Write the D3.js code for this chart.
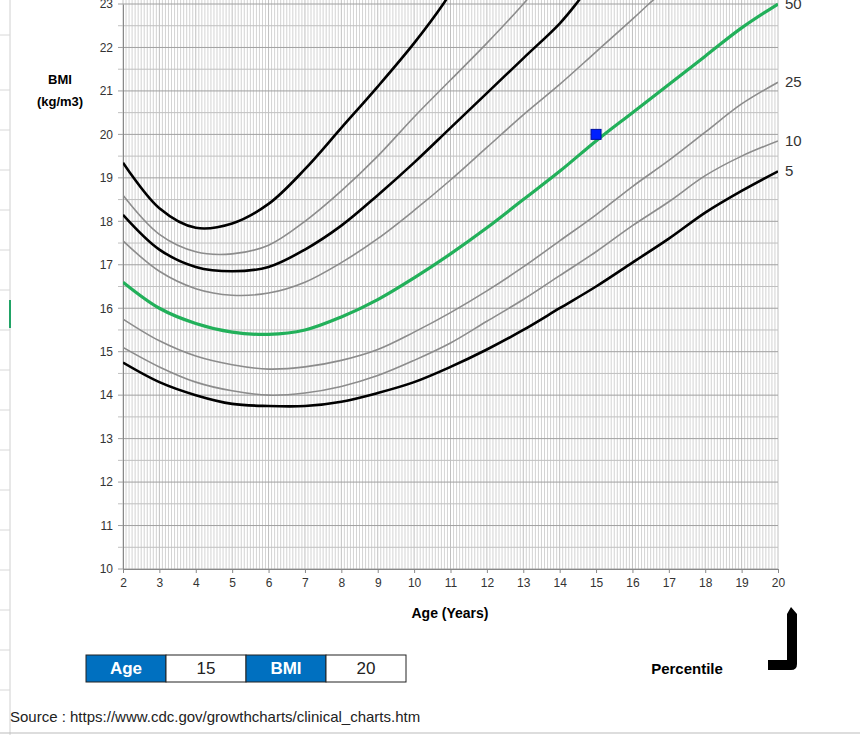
<!DOCTYPE html>
<html lang="en">
<head>
<meta charset="UTF-8">
<script src="https://d3js.org/d3.v7.min.js"></script>
<style>
  body { margin: 0; background: #fff; }
  svg { display: block; }
  .narrow { font-family: "Liberation Sans Narrow", "Liberation Sans", Arial, sans-serif; }
</style>
</head>
<body>
<div id="chart"></div>
<script>
const ages = [2, 3, 4, 5, 6, 7, 8, 9, 10, 11, 12, 13, 14, 15, 16, 17, 18, 19, 20];

// percentile curves (BMI values); shorter ones leave the top of the chart
const p95 = [19.35, 18.3, 17.85, 17.95, 18.4, 19.2, 20.15, 21.1, 22.1, 23.0, 23.4];
const p95Ages = [2, 3, 4, 5, 6, 7, 8, 9, 10, 10.8, 11.1];
const p90 = [18.6, 17.7, 17.3, 17.25, 17.45, 18.0, 18.7, 19.5, 20.4, 21.25, 22.1, 23.0, 23.4];
const p90Ages = [2, 3, 4, 5, 6, 7, 8, 9, 10, 11, 12, 13, 13.4];
const p85 = [18.15, 17.35, 16.95, 16.85, 16.95, 17.35, 17.9, 18.6, 19.35, 20.15, 20.95, 21.75, 22.55, 23.0, 23.4];
const p85Ages = [2, 3, 4, 5, 6, 7, 8, 9, 10, 11, 12, 13, 14, 14.45, 14.8];
const p75 = [17.55, 16.85, 16.45, 16.3, 16.35, 16.6, 17.05, 17.6, 18.25, 18.95, 19.7, 20.45, 21.15, 21.9, 22.65, 23.0, 23.4];
const p75Ages = [2, 3, 4, 5, 6, 7, 8, 9, 10, 11, 12, 13, 14, 15, 16, 16.45, 17];
const p50 = [16.6, 16.0, 15.65, 15.45, 15.4, 15.5, 15.8, 16.2, 16.7, 17.25, 17.85, 18.5, 19.15, 19.85, 20.5, 21.15, 21.8, 22.45, 23.0];
const p25 = [15.75, 15.25, 14.9, 14.7, 14.6, 14.65, 14.8, 15.05, 15.45, 15.9, 16.4, 16.95, 17.55, 18.15, 18.8, 19.4, 20.05, 20.7, 21.2];
const p10 = [15.1, 14.65, 14.3, 14.1, 14.0, 14.05, 14.2, 14.45, 14.8, 15.2, 15.7, 16.2, 16.75, 17.3, 17.9, 18.45, 19.05, 19.5, 19.85];
const p5 = [14.75, 14.3, 14.0, 13.8, 13.75, 13.75, 13.85, 14.05, 14.3, 14.65, 15.05, 15.5, 16.0, 16.5, 17.05, 17.6, 18.2, 18.7, 19.15];

const xTicks = d3.range(2, 21);
const yTicks = d3.range(10, 24);
const rightLabels = [["50", 23.0], ["25", 21.2], ["10", 19.85], ["5", 19.15]];

const patient = { age: 15, bmi: 20 };

const W = 860, H = 735;
const svg = d3.select("#chart").append("svg").attr("width", W).attr("height", H);

const x = d3.scaleLinear().domain([2, 20]).range([123, 778]);
const y = d3.scaleLinear().domain([10, 23]).range([569, 4]);

// spreadsheet leftovers on the left edge
svg.append("line").attr("x1", 10).attr("x2", 10).attr("y1", 0).attr("y2", H)
  .attr("stroke", "#d0d0d0");
[35, 90, 130, 170, 210, 250, 290, 330, 370, 410, 450, 490, 530, 570, 610, 650, 690].forEach(v =>
  svg.append("line").attr("x1", 0).attr("x2", 10).attr("y1", v).attr("y2", v).attr("stroke", "#d8d8d8"));
svg.append("line").attr("x1", 10).attr("x2", 10).attr("y1", 300).attr("y2", 328)
  .attr("stroke", "#21a366").attr("stroke-width", 2);
svg.append("line").attr("x1", 0).attr("x2", W).attr("y1", 733).attr("y2", 733).attr("stroke", "#bbb");

svg.append("defs").append("clipPath").attr("id", "plot")
  .append("rect").attr("x", x(2)).attr("y", 0).attr("width", x(20) - x(2)).attr("height", y(10));

const grid = svg.append("g");
// monthly vertical lines
d3.range(0, 18 * 12 + 1).forEach(m => {
  const a = 2 + m / 12;
  grid.append("line").attr("x1", x(a)).attr("x2", x(a)).attr("y1", 0).attr("y2", y(10))
    .attr("stroke", Number.isInteger(a) ? "#b0b0b0" : "#c8c8c8").attr("stroke-width", 0.8);
});
// horizontal grid at half units
d3.range(10, 23.01, 0.5).forEach(v => {
  grid.append("line").attr("x1", x(2) - 5).attr("x2", x(20)).attr("y1", y(v)).attr("y2", y(v))
    .attr("stroke", Number.isInteger(v) ? "#a0a0a0" : "#c0c0c0").attr("stroke-width", 1);
});

// axes
const xAxis = svg.append("g").attr("transform", `translate(0,${y(10)})`)
  .call(d3.axisBottom(x).tickValues(xTicks).tickSize(4).tickFormat(d3.format("d")));
const yAxis = svg.append("g").attr("transform", `translate(${x(2)},0)`)
  .call(d3.axisLeft(y).tickValues(yTicks).tickSize(0).tickPadding(10).tickFormat(d3.format("d")));
[xAxis, yAxis].forEach(g => {
  g.select(".domain").attr("stroke", "#888");
  g.selectAll("line").attr("stroke", "#888");
  g.selectAll("text").attr("class", "narrow").attr("font-size", 12).attr("fill", "#333");
});
xAxis.selectAll("text").attr("dy", "0.9em");

const line = d3.line().curve(d3.curveCatmullRom.alpha(0.5)).x(d => x(d[0])).y(d => y(d[1]));
const curves = [
  [p95Ages, p95, "#000", 2.6],
  [p90Ages, p90, "#8c8c8c", 1.6],
  [p85Ages, p85, "#000", 2.6],
  [p75Ages, p75, "#8c8c8c", 1.6],
  [ages, p25, "#8c8c8c", 1.6],
  [ages, p10, "#8c8c8c", 1.6],
  [ages, p5, "#000", 2.6],
  [ages, p50, "#22b05a", 3.2]
];
const plot = svg.append("g").attr("clip-path", "url(#plot)");
curves.forEach(([xs, vs, col, w]) => {
  plot.append("path").datum(xs.map((a, i) => [a, vs[i]]))
    .attr("d", line).attr("fill", "none").attr("stroke", col).attr("stroke-width", w);
});

// patient marker
svg.append("rect").attr("x", x(patient.age) - 5).attr("y", y(patient.bmi) - 5)
  .attr("width", 10).attr("height", 10).attr("fill", "#0020ff").attr("stroke", "#0010a0");

// percentile labels on the right
svg.selectAll(".pl").data(rightLabels).enter().append("text")
  .attr("class", "narrow").attr("x", 785).attr("y", d => y(d[1]) + 5)
  .attr("font-size", 15).attr("fill", "#333").text(d => d[0]);

// axis titles
svg.append("text").attr("class", "narrow").attr("x", 60).attr("y", 84).attr("text-anchor", "middle")
  .attr("font-size", 13).attr("font-weight", "bold").text("BMI");
svg.append("text").attr("class", "narrow").attr("x", 60).attr("y", 106).attr("text-anchor", "middle")
  .attr("font-size", 13).attr("font-weight", "bold").text("(kg/m3)");
svg.append("text").attr("class", "narrow").attr("x", 450).attr("y", 618).attr("text-anchor", "middle")
  .attr("font-size", 14).attr("font-weight", "bold").text("Age (Years)");

// input table
const cells = [["Age", true], [String(patient.age), false], ["BMI", true], [String(patient.bmi), false]];
cells.forEach(([t, head], i) => {
  const cx = 86 + i * 80;
  svg.append("rect").attr("x", cx).attr("y", 655).attr("width", 80).attr("height", 27)
    .attr("fill", head ? "#0070c0" : "#fff").attr("stroke", "#222").attr("stroke-width", 1);
  svg.append("text").attr("class", "narrow").attr("x", cx + 40).attr("y", 674).attr("text-anchor", "middle")
    .attr("font-size", 17).attr("font-weight", head ? "bold" : "normal")
    .attr("fill", head ? "#fff" : "#222").text(t);
});

svg.append("text").attr("class", "narrow").attr("x", 687).attr("y", 674).attr("text-anchor", "middle")
  .attr("font-size", 15).attr("font-weight", "bold").text("Percentile");
// corner arrow shape
svg.append("path").attr("d", "M791,607 L797,614 L797,664 Q797,670 791,670 L768,670 L768,660 L787,660 L787,614 Z")
  .attr("fill", "#000");

svg.append("text").attr("x", 10).attr("y", 722)
  .attr("font-family", "Liberation Sans Narrow, Liberation Sans, sans-serif").attr("font-size", 15)
  .attr("fill", "#222").text("Source : https://www.cdc.gov/growthcharts/clinical_charts.htm");
</script>
</body>
</html>
